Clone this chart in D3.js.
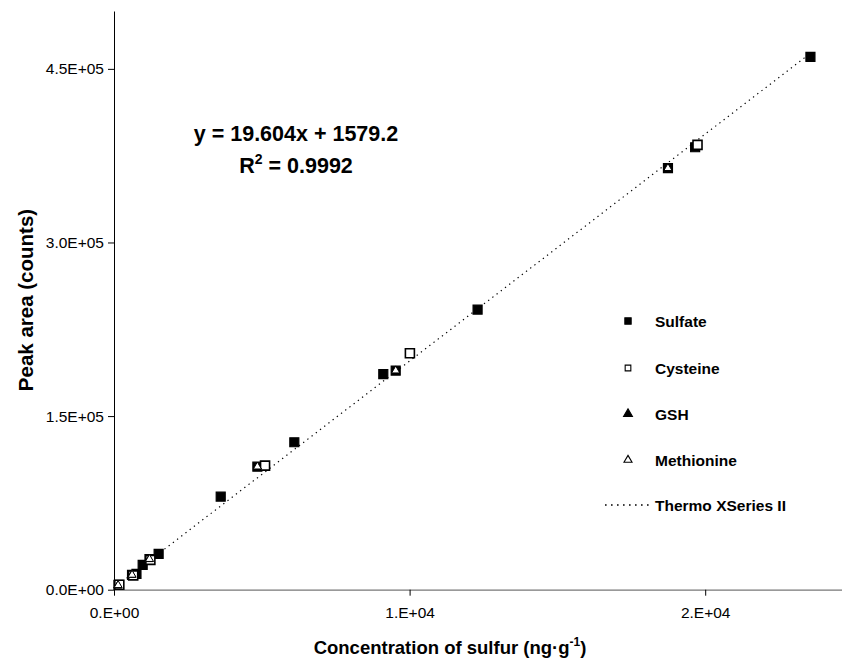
<!DOCTYPE html>
<meta charset="utf-8">
<script src="https://d3js.org/d3.v7.min.js"></script>
<style>
  body { margin: 0; background: #fff; }
  svg { font-family: "Liberation Sans", Arial, sans-serif; }
</style>
<div id="my_dataviz"></div>

<script>

  // data
  const sulfateX = [150, 610, 760, 970, 1200, 1510, 3610, 4850, 6100, 9110, 9530, 12300, 18740, 19660, 23560];
  const sulfateY = [4100, 12800, 13600, 21400, 26400, 30900, 80400, 106300, 127400, 186200, 189300, 242000, 364200, 382300, 460400];
  const cysteineX = [180, 650, 1230, 5110, 10010, 19740];
  const cysteineY = [4300, 12400, 25800, 107200, 204300, 384300];
  const gshX = [130, 600, 1190, 4850, 9530, 18740];
  const gshY = [3500, 12600, 26300, 106300, 189300, 364200];
  const methionineX = [140, 610, 1200, 4850, 9530, 18740];
  const methionineY = [3800, 12800, 26400, 106300, 189300, 364200];

  // fit: y = 19.604x + 1579.2
  const slope = 19.604, intercept = 1579.2;
  const fitX = [0, 23560];

  const xTicks = [0, 10000, 20000];
  const xTickLabels = ["0.E+00", "1.E+04", "2.E+04"];
  const yTicks = [0, 150000, 300000, 450000];
  const yTickLabels = ["0.0E+00", "1.5E+05", "3.0E+05", "4.5E+05"];

  const legendNames = ["Sulfate", "Cysteine", "GSH", "Methionine", "Thermo XSeries II"];

  // set the dimensions and margins of the graph
  const margin = { top: 11, left: 114 },
    width = 739,
    height = 578.7;

  const svg = d3.select("#my_dataviz")
    .append("svg")
    .attr("width", 842)
    .attr("height", 662)
    .append("g")
    .attr("transform", `translate(${margin.left},${margin.top})`);

  const x = d3.scaleLinear().domain([0, 25000]).range([0, width]);
  const y = d3.scaleLinear().domain([0, 500000]).range([height, 0]);

  // x axis
  const xAxis = svg.append("g")
    .attr("transform", `translate(0, ${height})`)
    .call(d3.axisBottom(x).tickValues(xTicks).tickSize(6).tickSizeOuter(0)
      .tickFormat((d, i) => xTickLabels[i]));
  xAxis.select(".domain").attr("stroke", "#777").attr("stroke-width", 1.3);
  xAxis.selectAll(".tick line").attr("stroke", "#000");
  xAxis.selectAll(".tick text").attr("font-size", 15.5).attr("y", 14).attr("dy", "0.9em").attr("fill", "#000");

  // y axis
  const yAxis = svg.append("g")
    .call(d3.axisLeft(y).tickValues(yTicks).tickSize(6).tickSizeOuter(0)
      .tickFormat((d, i) => yTickLabels[i]));
  yAxis.select(".domain").attr("stroke", "#000");
  yAxis.selectAll(".tick text").attr("font-size", 15.5).attr("x", -10).attr("fill", "#000");

  // trend line
  svg.append("path")
    .datum(fitX)
    .attr("fill", "none")
    .attr("stroke", "#000")
    .attr("stroke-width", 1.2)
    .attr("stroke-dasharray", "1.3,4")
    .attr("d", d3.line()
      .x(function (d) { return x(d); })
      .y(function (d) { return y(slope * d + intercept); }));

  const square = d3.symbol().type(d3.symbolSquare).size(81);
  const triangle = d3.symbol().type(d3.symbolTriangle).size(28);

  function drawSeries(xs, ys, sym, fill, sw) {
    svg.append("g")
      .selectAll("path")
      .data(xs.map((v, i) => [v, ys[i]]))
      .join("path")
      .attr("d", sym)
      .attr("transform", d => `translate(${x(d[0])},${y(d[1])})`)
      .attr("fill", fill)
      .attr("stroke", "#000")
      .attr("stroke-width", sw);
  }

  drawSeries(sulfateX, sulfateY, square, "#000", 1.2);
  drawSeries(cysteineX, cysteineY, square, "#fff", 1.6);
  drawSeries(gshX, gshY, triangle, "#000", 1);
  drawSeries(methionineX, methionineY, triangle, "#fff", 1);

  // equation
  const eq = svg.append("g")
    .attr("font-weight", "bold")
    .attr("font-size", 21.5)
    .attr("text-anchor", "middle");
  eq.append("text")
    .attr("x", 296 - margin.left)
    .attr("y", 141 - margin.top)
    .text("y = 19.604x + 1579.2");
  const r2 = eq.append("text")
    .attr("x", 296 - margin.left)
    .attr("y", 173 - margin.top);
  r2.append("tspan").text("R");
  r2.append("tspan").attr("font-size", 14).attr("dy", -9).text("2");
  r2.append("tspan").attr("dy", 9).text(" = 0.9992");

  // legend
  const legSym = [
    { sym: d3.symbol().type(d3.symbolSquare).size(40), fill: "#000" },
    { sym: d3.symbol().type(d3.symbolSquare).size(32), fill: "#fff" },
    { sym: d3.symbol().type(d3.symbolTriangle).size(34), fill: "#000" },
    { sym: d3.symbol().type(d3.symbolTriangle).size(28), fill: "#fff" }
  ];
  const legY = [321, 368, 414, 460, 505];
  const leg = svg.append("g").attr("transform", `translate(${-margin.left},${-margin.top})`);
  legendNames.forEach((name, i) => {
    if (i < 4) {
      leg.append("path")
        .attr("d", legSym[i].sym)
        .attr("transform", `translate(628,${legY[i]})`)
        .attr("fill", legSym[i].fill)
        .attr("stroke", "#000")
        .attr("stroke-width", 1.1);
    } else {
      leg.append("line")
        .attr("x1", 605).attr("x2", 653)
        .attr("y1", legY[i]).attr("y2", legY[i])
        .attr("stroke", "#000")
        .attr("stroke-width", 1.4)
        .attr("stroke-dasharray", "1.6,4.4");
    }
    leg.append("text")
      .attr("x", 655)
      .attr("y", legY[i])
      .attr("dy", "0.36em")
      .attr("font-size", 15.5)
      .attr("font-weight", "bold")
      .text(name);
  });

  // axis titles
  const xt = svg.append("text")
    .attr("text-anchor", "middle")
    .attr("font-weight", "bold")
    .attr("font-size", 18.5)
    .attr("x", 450 - margin.left)
    .attr("y", 654 - margin.top);
  xt.append("tspan").text("Concentration of sulfur (ng\u00b7g");
  xt.append("tspan").attr("font-size", 12).attr("dy", -8).text("-1");
  xt.append("tspan").attr("dy", 8).text(")");

  svg.append("text")
    .attr("text-anchor", "middle")
    .attr("font-weight", "bold")
    .attr("font-size", 20.5)
    .attr("transform", `translate(${33 - margin.left},${300 - margin.top}) rotate(-90)`)
    .text("Peak area (counts)");

</script>
